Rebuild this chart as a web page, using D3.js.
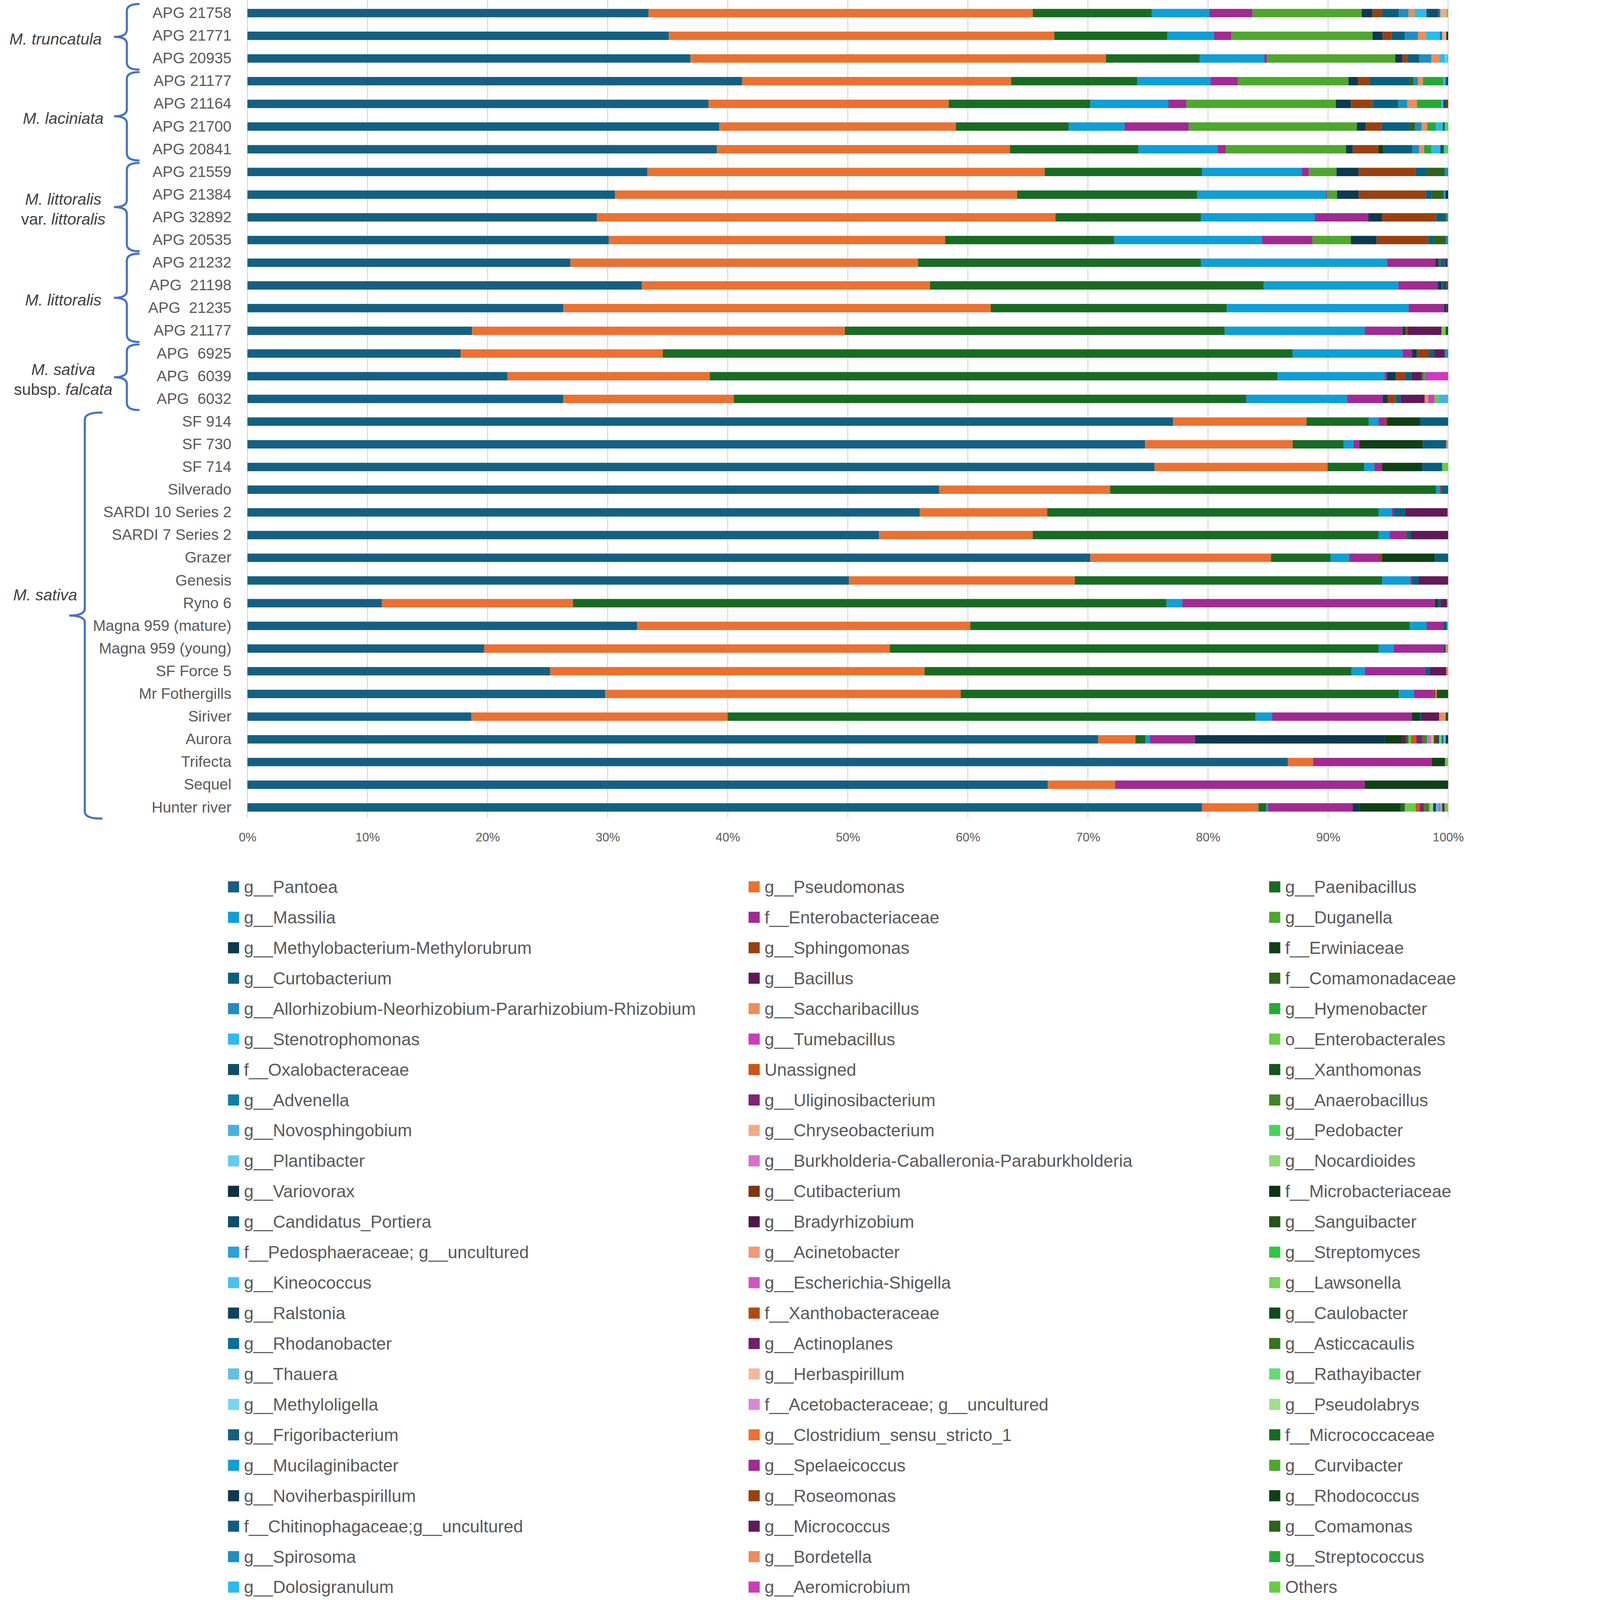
<!DOCTYPE html>
<html>
<head>
<meta charset="utf-8">
<script src="https://cdn.jsdelivr.net/npm/d3@7"></script>
<style>
  html, body { margin: 0; padding: 0; background: #ffffff; overflow: hidden; }
  text { font-family: "Liberation Sans", Arial, sans-serif; }
</style>
</head>
<body>
<div id="chart"></div>
<script>
// Sample names, top to bottom
const samples = [
    "APG 21758", "APG 21771", "APG 20935", "APG 21177", "APG 21164", "APG 21700",
    "APG 20841", "APG 21559", "APG 21384", "APG 32892", "APG 20535", "APG 21232",
    "APG  21198", "APG  21235", "APG 21177", "APG  6925", "APG  6039", "APG  6032",
    "SF 914", "SF 730", "SF 714", "Silverado", "SARDI 10 Series 2", "SARDI 7 Series 2",
    "Grazer", "Genesis", "Ryno 6", "Magna 959 (mature)", "Magna 959 (young)", "SF Force 5",
    "Mr Fothergills", "Siriver", "Aurora", "Trifecta", "Sequel", "Hunter river"
];

// Species groups: label lines as [text, italic] pieces, first and last sample row
const groupLabels = [
    [[["M. truncatula", true]]],
    [[["M. laciniata", true]]],
    [[["M. littoralis", true]], [["var. ", false], ["littoralis", true]]],
    [[["M. littoralis", true]]],
    [[["M. sativa", true]], [["subsp. ", false], ["falcata", true]]],
    [[["M. sativa", true]]]
];
const groupFirst = [0, 3, 7, 11, 15, 18];
const groupLast = [2, 6, 10, 14, 17, 35];

// Taxa in series order (legend is filled row by row, three columns)
const taxa = [
    "g__Pantoea", "g__Pseudomonas", "g__Paenibacillus",
    "g__Massilia", "f__Enterobacteriaceae", "g__Duganella",
    "g__Methylobacterium-Methylorubrum", "g__Sphingomonas", "f__Erwiniaceae",
    "g__Curtobacterium", "g__Bacillus", "f__Comamonadaceae",
    "g__Allorhizobium-Neorhizobium-Pararhizobium-Rhizobium", "g__Saccharibacillus", "g__Hymenobacter",
    "g__Stenotrophomonas", "g__Tumebacillus", "o__Enterobacterales",
    "f__Oxalobacteraceae", "Unassigned", "g__Xanthomonas",
    "g__Advenella", "g__Uliginosibacterium", "g__Anaerobacillus",
    "g__Novosphingobium", "g__Chryseobacterium", "g__Pedobacter",
    "g__Plantibacter", "g__Burkholderia-Caballeronia-Paraburkholderia", "g__Nocardioides",
    "g__Variovorax", "g__Cutibacterium", "f__Microbacteriaceae",
    "g__Candidatus_Portiera", "g__Bradyrhizobium", "g__Sanguibacter",
    "f__Pedosphaeraceae; g__uncultured", "g__Acinetobacter", "g__Streptomyces",
    "g__Kineococcus", "g__Escherichia-Shigella", "g__Lawsonella",
    "g__Ralstonia", "f__Xanthobacteraceae", "g__Caulobacter",
    "g__Rhodanobacter", "g__Actinoplanes", "g__Asticcacaulis",
    "g__Thauera", "g__Herbaspirillum", "g__Rathayibacter",
    "g__Methyloligella", "f__Acetobacteraceae; g__uncultured", "g__Pseudolabrys",
    "g__Frigoribacterium", "g__Clostridium_sensu_stricto_1", "f__Micrococcaceae",
    "g__Mucilaginibacter", "g__Spelaeicoccus", "g__Curvibacter",
    "g__Noviherbaspirillum", "g__Roseomonas", "g__Rhodococcus",
    "f__Chitinophagaceae;g__uncultured", "g__Micrococcus", "g__Comamonas",
    "g__Spirosoma", "g__Bordetella", "g__Streptococcus",
    "g__Dolosigranulum", "g__Aeromicrobium", "Others"
];

// Relative abundance (%) per sample as [taxon index, value] pairs
const abundance = [
    [[0,33.4],[1,32.0],[2,9.9],[3,4.8],[4,3.6],[5,9.1],[6,0.9],[7,0.8],[9,1.4],[12,0.8],[13,0.5],[15,1.0],[18,1.0],[21,0.15],[25,0.5],[71,0.15]],
    [[0,35.1],[1,32.1],[2,9.4],[3,3.9],[4,1.45],[5,11.75],[6,0.85],[7,0.75],[9,1.1],[12,1.1],[13,0.65],[15,1.15],[21,0.2],[25,0.35],[32,0.15]],
    [[0,36.9],[1,34.6],[2,7.8],[3,5.4],[4,0.2],[5,10.7],[6,0.6],[7,0.4],[9,1.0],[12,1.0],[13,0.65],[15,0.45],[27,0.2],[71,0.1]],
    [[0,41.2],[1,22.4],[2,10.5],[3,6.1],[4,2.3],[5,9.2],[6,0.8],[7,0.95],[9,3.35],[11,0.3],[12,0.4],[13,0.4],[14,1.7],[15,0.2],[18,0.2]],
    [[0,38.4],[1,20.0],[2,11.8],[3,6.5],[4,1.5],[5,12.45],[6,1.25],[7,1.8],[9,2.15],[12,0.75],[13,0.8],[14,2.05],[15,0.15],[18,0.2],[31,0.2]],
    [[0,39.3],[1,19.7],[2,9.4],[3,4.65],[4,5.35],[5,14.0],[6,0.75],[7,1.3],[9,2.35],[11,0.45],[12,0.55],[13,0.45],[14,0.75],[15,0.55],[18,0.15],[26,0.3]],
    [[0,39.1],[1,24.4],[2,10.7],[3,6.6],[4,0.7],[5,10.0],[6,0.55],[7,2.15],[8,0.4],[9,2.4],[12,0.6],[13,0.4],[14,0.6],[15,0.75],[18,0.3],[26,0.35]],
    [[0,33.3],[1,33.1],[2,13.1],[3,8.3],[4,0.6],[5,2.3],[6,1.85],[7,4.75],[9,0.9],[11,1.5],[12,0.3]],
    [[0,30.6],[1,33.5],[2,15.0],[3,10.7],[4,0.1],[5,0.85],[6,1.8],[7,5.6],[9,0.45],[11,1.05],[12,0.15],[30,0.2]],
    [[0,29.1],[1,38.2],[2,12.1],[3,9.5],[4,4.45],[6,1.15],[7,4.5],[9,0.6],[11,0.25],[12,0.15]],
    [[0,30.1],[1,28.0],[2,14.1],[3,12.3],[4,4.2],[5,3.2],[6,2.15],[7,4.3],[9,0.45],[11,1.0],[12,0.2]],
    [[0,26.9],[1,28.95],[2,23.55],[3,15.5],[4,4.05],[6,0.25],[7,0.15],[9,0.4],[10,0.2],[71,0.05]],
    [[0,32.85],[1,24.0],[2,27.8],[3,11.2],[4,3.3],[6,0.3],[9,0.25],[10,0.15],[11,0.15]],
    [[0,26.3],[1,35.6],[2,19.65],[3,15.15],[4,2.95],[6,0.2],[10,0.15]],
    [[0,18.7],[1,31.05],[2,31.65],[3,11.65],[4,3.15],[6,0.25],[7,0.15],[10,2.85],[17,0.35],[20,0.2]],
    [[0,17.75],[1,16.85],[2,52.45],[3,9.15],[4,0.8],[6,0.4],[7,1.0],[9,0.45],[10,0.85],[12,0.3]],
    [[0,21.65],[1,16.85],[2,47.3],[3,8.9],[4,0.2],[6,0.75],[7,0.8],[9,0.5],[10,0.8],[11,0.15],[14,0.15],[16,1.95]],
    [[0,26.3],[1,14.2],[2,42.7],[3,8.4],[4,2.95],[6,0.4],[7,0.7],[9,0.4],[10,2.0],[13,0.3],[16,0.5],[17,0.35],[24,0.8]],
    [[0,77.1],[1,11.1],[2,5.2],[3,0.8],[4,0.55],[7,0.15],[8,2.75],[9,2.35]],
    [[0,74.75],[1,12.3],[2,4.25],[3,0.8],[4,0.5],[8,5.3],[9,1.95],[13,0.15]],
    [[0,75.55],[1,14.4],[2,3.05],[3,0.85],[4,0.65],[8,3.35],[9,1.65],[17,0.5]],
    [[0,57.6],[1,14.25],[2,27.15],[3,0.3],[7,0.1],[9,0.6]],
    [[0,56.0],[1,10.6],[2,27.6],[3,1.1],[4,0.15],[9,0.95],[10,3.55],[13,0.05]],
    [[0,52.6],[1,12.8],[2,28.8],[3,0.9],[4,1.35],[7,0.1],[9,0.35],[10,3.1]],
    [[0,70.2],[1,15.05],[2,4.95],[3,1.55],[4,2.55],[7,0.2],[8,4.4],[9,1.1]],
    [[0,50.1],[1,18.8],[2,25.6],[3,2.35],[4,0.15],[9,0.55],[10,2.45]],
    [[0,11.2],[1,15.9],[2,49.45],[3,1.3],[4,21.05],[8,0.25],[9,0.2],[10,0.55],[71,0.1]],
    [[0,32.45],[1,27.75],[2,36.6],[3,1.4],[4,1.4],[9,0.3],[71,0.1]],
    [[0,19.7],[1,33.8],[2,40.7],[3,1.25],[4,4.15],[9,0.2],[13,0.2]],
    [[0,25.2],[1,31.2],[2,35.55],[3,1.1],[4,5.05],[9,0.35],[10,1.4],[13,0.15]],
    [[0,29.8],[1,29.6],[2,36.5],[3,1.25],[4,1.65],[7,0.15],[13,0.1],[20,0.95]],
    [[0,18.65],[1,21.35],[2,43.95],[3,1.4],[4,11.65],[8,0.65],[9,0.1],[10,1.5],[13,0.55],[20,0.2]],
    [[0,70.85],[1,3.1],[2,0.85],[3,0.35],[4,3.75],[6,15.85],[8,1.4],[10,0.3],[11,0.2],[14,0.1],[17,0.15],[19,0.45],[22,0.5],[23,0.4],[28,0.35],[29,0.2],[31,0.25],[33,0.2],[41,0.2],[45,0.15],[48,0.2],[62,0.2]],
    [[0,86.65],[1,2.1],[4,9.9],[8,1.05],[10,0.05],[71,0.25]],
    [[0,66.65],[1,5.6],[4,20.8],[8,6.95]],
    [[0,79.5],[1,4.7],[2,0.65],[3,0.15],[4,7.05],[6,0.55],[8,3.45],[11,0.35],[17,0.9],[19,0.35],[22,0.35],[23,0.4],[28,0.1],[29,0.25],[33,0.25],[39,0.2],[40,0.15],[41,0.15],[46,0.2],[71,0.3]]
];

const percentTicks = [0, 10, 20, 30, 40, 50, 60, 70, 80, 90, 100];

function init() {
    const w = 4212; // drawing width in reference pixels
    const h = 4604; // drawing height
    const plotLeft = 712;
    const plotRight = 4167;
    const plotTop = 5;
    const plotBottom = 2356;
    const gridBottom = 2353;

    // Office theme accents, shaded the way Excel cycles them past six series
    const accents = ["#156082", "#E97132", "#196B24", "#0F9ED5", "#A02B93", "#4EA72E"];
    const shades = [[1, 0], [0.6, 0], [0.8, 0.2], [0.8, 0], [0.6, 0.4], [0.5, 0],
                    [0.7, 0.3], [0.7, 0], [0.5, 0.5], [1, 0], [0.6, 0], [0.8, 0.2]];
    const colour = i => {
        const c = d3.hsl(accents[i % 6]);
        const [mod, off] = shades[Math.floor(i / 6)];
        c.l = c.l * mod + off;
        return c.formatHex();
    };

    const keys = d3.range(taxa.length);
    const table = abundance.map((pairs, r) => {
        const row = { sample: r };
        keys.forEach(k => row[k] = 0);
        pairs.forEach(([k, v]) => row[k] = v);
        return row;
    });

    const x = d3.scaleLinear().domain([0, 100]).range([plotLeft, plotRight]);
    const y = d3.scaleBand()
        .domain(d3.range(samples.length))
        .range([plotTop, plotBottom])
        .paddingInner(0.63)
        .paddingOuter(0.315);

    // Fit the drawing to whatever the viewport really is
    const vw = window.innerWidth || document.documentElement.clientWidth || w;
    const vh = window.innerHeight || document.documentElement.clientHeight || h;
    const svg = d3.select("#chart")
        .append("svg")
        .attr("width", vw)
        .attr("height", vh)
        .attr("viewBox", `0 0 ${w} ${h}`)
        .attr("preserveAspectRatio", "xMinYMin meet")
        .style("display", "block");

    svg.append("rect").attr("width", w).attr("height", h).attr("fill", "#ffffff");

    // Vertical gridlines
    svg.append("g")
        .selectAll("line")
        .data(percentTicks)
        .join("line")
        .attr("x1", d => x(d))
        .attr("x2", d => x(d))
        .attr("y1", 0)
        .attr("y2", gridBottom)
        .attr("stroke", "#d9d9d9")
        .attr("stroke-width", 3);

    // Stacked bars
    const stacked = d3.stack().keys(keys)(table);
    svg.append("g")
        .selectAll("g")
        .data(stacked)
        .join("g")
        .attr("fill", d => colour(d.key))
        .selectAll("rect")
        .data(d => d.filter(s => s[1] - s[0] > 0))
        .join("rect")
        .attr("x", d => x(d[0]))
        .attr("y", d => y(d.data.sample))
        .attr("width", d => x(d[1]) - x(d[0]))
        .attr("height", y.bandwidth());

    // Percentage axis
    const xAxis = svg.append("g")
        .attr("transform", `translate(0,${plotBottom + 4})`)
        .call(d3.axisBottom(x).tickValues(percentTicks).tickSize(0).tickPadding(36).tickFormat(d => d + "%"));
    xAxis.select(".domain").remove();
    xAxis.selectAll("text")
        .attr("fill", "#595959")
        .style("font-size", "35px")
        .style("font-family", "'Liberation Sans', Arial, sans-serif");

    // Sample labels
    const yAxis = svg.append("g")
        .attr("transform", `translate(${plotLeft},0)`)
        .call(d3.axisLeft(y).tickSize(0).tickPadding(46).tickFormat(i => samples[i]));
    yAxis.select(".domain").remove();
    yAxis.selectAll("text")
        .attr("fill", "#595959")
        .style("font-size", "44px")
        .style("white-space", "pre")
        .style("font-family", "'Liberation Sans', Arial, sans-serif");

    // Group braces and labels
    const centre = i => y(i) + y.bandwidth() / 2;
    const braceColour = "#4472C4";
    groupLabels.forEach((lines, g) => {
        const wide = g === groupLabels.length - 1;
        const xv = wide ? 244 : 365;   // vertical stem
        const xr = wide ? 292 : 399;   // hook ends
        const xl = wide ? 199 : 328;   // tip
        const y0 = centre(groupFirst[g]) - 26;
        const y1 = centre(groupLast[g]) + 32;
        const ym = (y0 + y1) / 2;
        const r = 20;
        const p = d3.path();
        p.moveTo(xr, y0);
        p.quadraticCurveTo(xv, y0, xv, y0 + r);
        p.lineTo(xv, ym - r);
        p.quadraticCurveTo(xv, ym, xl, ym);
        p.quadraticCurveTo(xv, ym, xv, ym + r);
        p.lineTo(xv, y1 - r);
        p.quadraticCurveTo(xv, y1, xr, y1);
        svg.append("path")
            .attr("d", p.toString())
            .attr("fill", "none")
            .attr("stroke", braceColour)
            .attr("stroke-width", 6)
            .attr("stroke-linecap", "round");

        // the long M. sativa brace has its label sitting above the tip
        const lineGap = 57;
        const cx = wide ? 130 : (g === 0 ? 160 : 182);
        const cy = wide ? ym - 60 : ym + 6;
        const label = svg.append("text")
            .attr("text-anchor", "middle")
            .attr("fill", "#404040")
            .style("font-size", "46px");
        lines.forEach((pieces, li) => {
            const ly = cy + (li - (lines.length - 1) / 2) * lineGap;
            const line = label.append("tspan")
                .attr("x", cx)
                .attr("y", ly)
                .attr("dy", "0.35em");
            pieces.forEach(([txt, italic]) => {
                line.append("tspan")
                    .style("font-style", italic ? "italic" : "normal")
                    .style("white-space", "pre")
                    .text(txt);
            });
        });
    });

    // Legend, three columns filled row by row
    const legendLeft = 656;
    const legendColStep = 1498;
    const legendTop = 2552;
    const legendRowStep = 87.6;
    const box = 32;
    const legend = svg.append("g");
    taxa.forEach((name, i) => {
        const item = legend.append("g")
            .attr("transform", `translate(${legendLeft + (i % 3) * legendColStep},${legendTop + Math.floor(i / 3) * legendRowStep})`);
        item.append("rect")
            .attr("x", 0)
            .attr("y", -box / 2)
            .attr("width", box)
            .attr("height", box)
            .attr("fill", colour(i));
        item.append("text")
            .attr("x", 46)
            .attr("dy", "0.35em")
            .attr("fill", "#595959")
            .style("font-size", "50px")
            .text(name);
    });
}

window.onload = init;
</script>
</body>
</html>
